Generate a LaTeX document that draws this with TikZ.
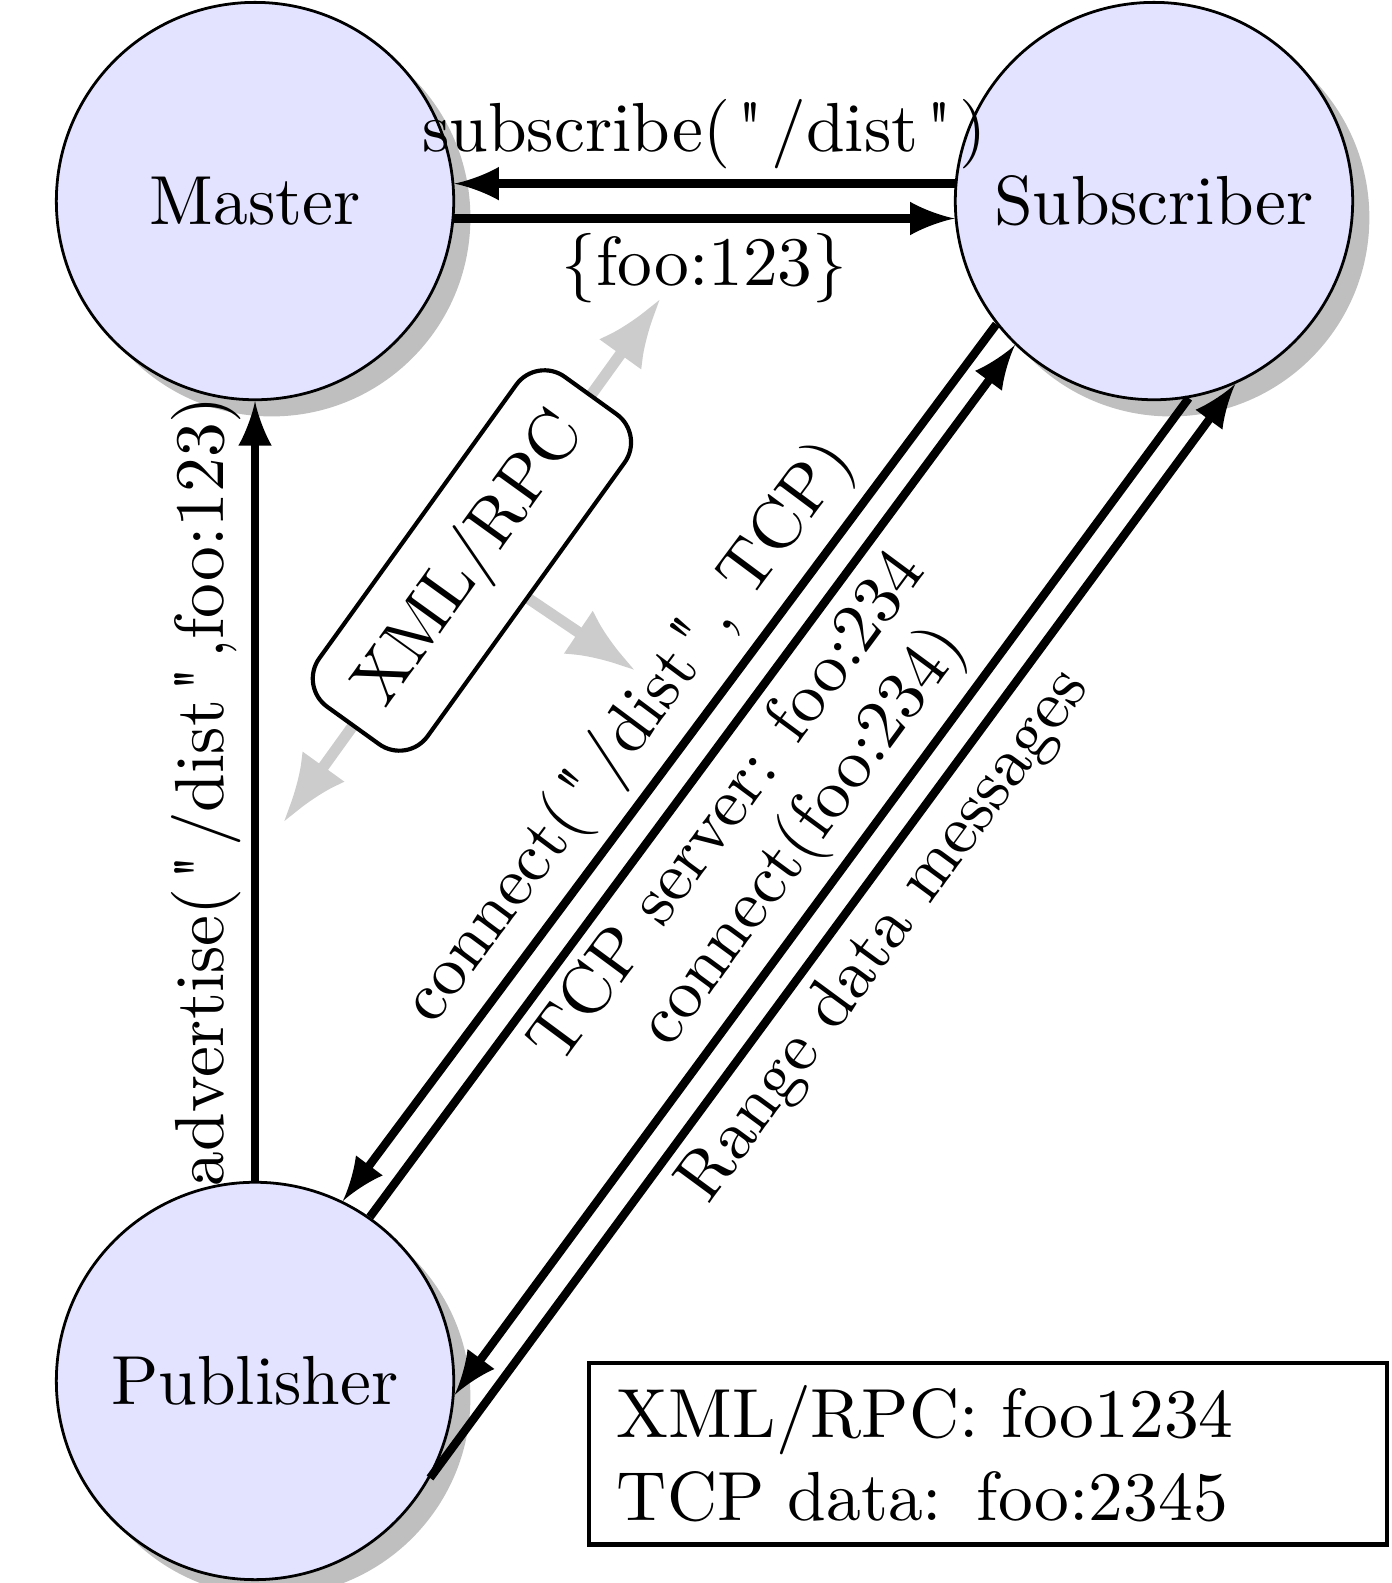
\documentclass[tikz,border=0pt]{standalone}
\usepackage{fontspec}
\usetikzlibrary{arrows.meta,shadows}

% straight double quote, set a little wider
\newcommand{\dq}{\kern1.1pt\textquotedbl\kern1.1pt}

\begin{document}
\begin{tikzpicture}[
    rosnode/.style={circle, draw, fill=blue!11, minimum size=2.01cm, inner sep=0pt,
      drop shadow={shadow xshift=2.4pt, shadow yshift=-2.4pt, fill=black!25, opacity=1}},
    msg/.style={very thick, -latex},
    lbl/.style={inner sep=1.5pt},
    rpcline/.style={line width=1.6pt, black!20, >={Latex[length=10pt,width=7.5pt]}},
    rpcbox/.style={draw, semithick, fill=white, rounded corners=5pt, inner sep=4.6pt},
    infobox/.style={draw, semithick, align=left, text width=106.8pt, inner xsep=4pt, inner ysep=3.2pt}
  ]
  \useasboundingbox (0,0) rectangle (7.036,-8.007);

  % 1. The three nodes (master top left, subscriber top right, publisher below)
  \node[rosnode] (master) at (1.29,-1.017) {Master};
  \node[rosnode] (sub) at (5.837,-1.017) {Subscriber};
  \node[rosnode] (pub) at (1.29,-6.985) {Publisher};

  % 2. Talking to the master
  \draw[msg] (sub.175) -- node[lbl, above] {subscribe(\dq/dist\dq)} (master.5);
  \draw[msg] (master.-5) -- node[lbl, below] {\{foo:123\}} (sub.185);
  \draw[msg] (pub.north) -- node[lbl, above, sloped] {advertise(\dq/dist\dq,foo:123)} (master.south);

  % 3. Publisher and subscriber connect to each other
  \draw[msg] (sub.-142.7) -- node[lbl, above, sloped] {connect(\dq/dist\dq, TCP)} (pub.64.3);
  \draw[msg] (pub.55.6) -- node[lbl, below, sloped] {TCP server: foo:234} (sub.-134.6);
  \draw[msg] (sub.-80) -- node[lbl, above, sloped, pos=0.47] {connect(foo:234)} (pub.-4.8);
  \draw[msg] (pub.-29.7) -- node[lbl, below, sloped, pos=0.52] {Range data messages} (sub.-66.6);

  % 4. Which messages go over XML/RPC
  % The box sits in the middle of the long grey arrow
  \coordinate (rpcLow) at (1.431,-4.163);
  \coordinate (rpcHigh) at (3.343,-1.507);
  \coordinate (rpcTcp) at (3.217,-3.394);
  \draw[rpcline, <->] (rpcLow) -- coordinate[midway] (rpcMid) (rpcHigh);
  \draw[rpcline, ->] (rpcMid) -- (rpcTcp);
  \path (rpcLow) -- node[rpcbox, sloped] (rpc) {XML/RPC} (rpcHigh);

  % 5. Ports in use
  \node[infobox, anchor=north west] (ports) at (2.969,-6.884) {XML/RPC: foo1234\\TCP data: foo:2345};

\end{tikzpicture}
\end{document}
